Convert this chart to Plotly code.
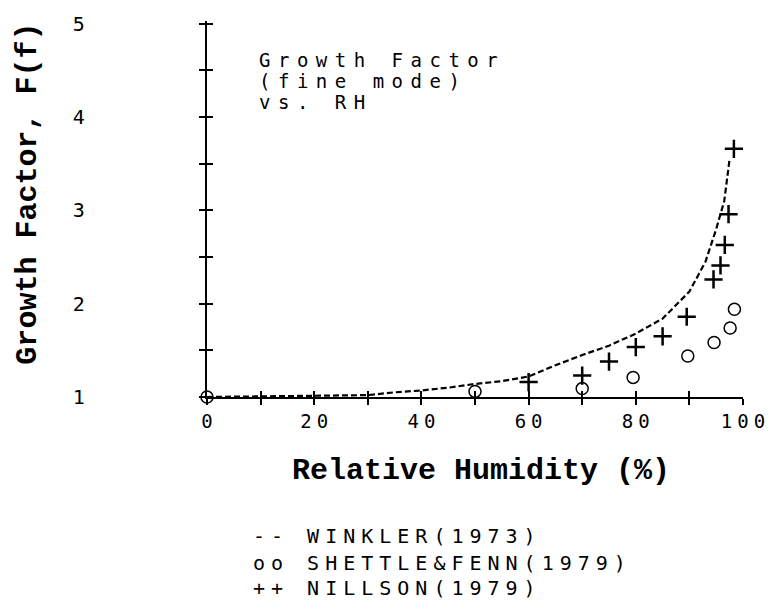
import plotly.graph_objects as go

# ---------------- data ----------------
winkler_rh = [0, 15, 30, 35, 40, 45, 50, 55, 60, 65, 70, 75, 80, 85, 90, 93, 95, 96.5, 97.5]
winkler_f = [1.0, 1.01, 1.02, 1.05, 1.07, 1.10, 1.14, 1.17, 1.22, 1.34, 1.45, 1.55, 1.68, 1.84, 2.13, 2.45, 2.8, 3.1, 3.55]

shettle_rh = [0, 50, 70, 79.5, 89.7, 94.6, 97.6, 98.4]
shettle_f = [1.0, 1.06, 1.09, 1.21, 1.44, 1.585, 1.74, 1.94]

nillson_rh = [60, 70, 75, 80, 85, 89.5, 94.5, 95.8, 96.6, 97.3, 98.3]
nillson_f = [1.16, 1.23, 1.38, 1.535, 1.65, 1.86, 2.26, 2.41, 2.63, 2.96, 3.66]

x_tick_vals = [0, 10, 20, 30, 40, 50, 60, 70, 80, 90, 100]
x_tick_text = ["0", "", "20", "", "40", "", "60", "", "80", "", "100"]
y_tick_vals = [1, 1.5, 2, 2.5, 3, 3.5, 4, 4.5, 5]
y_tick_text = ["1", "", "2", "", "3", "", "4", "", "5"]

legend_lines = ["-- WINKLER(1973)", "oo SHETTLE&FENN(1979)", "++ NILLSON(1979)"]
note_lines = ["Growth Factor", "(fine mode)", "vs. RH"]
x_title = "Relative Humidity (%)"
y_title = "Growth Factor, F(f)"

# ---------------- layout geometry ----------------
W, H = 772, 605
L, R, T, B = 207, 20, 18, 208
PW, PH = W - L - R, H - T - B
X_RANGE = [0, 100]
Y_RANGE = [1, 5.03]


def px(xp):
    return (xp - L) / PW


def py(yp):
    return (H - B - yp) / PH


DOT = "DejaVu Sans Mono, monospace"
COUR = "Courier New, Liberation Mono, monospace"

fig = go.Figure()
fig.add_trace(go.Scatter(x=winkler_rh, y=winkler_f, mode="lines",
                         line=dict(color="black", width=2.2, dash="6px,3px"),
                         cliponaxis=False, showlegend=False))
fig.add_trace(go.Scatter(x=shettle_rh, y=shettle_f, mode="markers",
                         marker=dict(symbol="circle-open", size=12, color="black",
                                     line=dict(width=1.5, color="black")),
                         cliponaxis=False, showlegend=False))
fig.add_trace(go.Scatter(x=nillson_rh, y=nillson_f, mode="markers",
                         marker=dict(symbol="cross-thin-open", size=13, color="black",
                                     line=dict(width=2.5, color="black")),
                         cliponaxis=False, showlegend=False))
# invisible trace so the overlay axes (inner half of the cross ticks) get drawn
fig.add_trace(go.Scatter(x=winkler_rh, y=winkler_f, mode="markers", xaxis="x2", yaxis="y2",
                         marker=dict(opacity=0), hoverinfo="skip", showlegend=False))

axis_common = dict(showgrid=False, zeroline=False, color="black")

fig.update_layout(
    width=W, height=H,
    margin=dict(l=L, r=R, t=T, b=B),
    paper_bgcolor="white", plot_bgcolor="white",
    showlegend=False,
    xaxis=dict(range=X_RANGE, tickvals=x_tick_vals, ticktext=x_tick_text,
               ticks="outside", ticklen=6, tickwidth=2, tickcolor="black",
               showline=True, linewidth=2.2, linecolor="black",
               tickfont=dict(family=DOT, size=19, color="black"),
               ticklabelstandoff=0, **axis_common),
    yaxis=dict(range=Y_RANGE, tickvals=y_tick_vals, ticktext=y_tick_text,
               ticks="outside", ticklen=6, tickwidth=2, tickcolor="black",
               showline=True, linewidth=2.2, linecolor="black",
               tickfont=dict(family=DOT, size=20, color="black"),
               ticklabelstandoff=110, **axis_common),
    xaxis2=dict(range=X_RANGE, overlaying="x", anchor="y2", side="bottom",
                tickvals=x_tick_vals, ticks="inside", ticklen=6, tickwidth=2,
                tickcolor="black", showticklabels=False, showline=False, **axis_common),
    yaxis2=dict(range=Y_RANGE, overlaying="y", anchor="x2", side="left",
                tickvals=y_tick_vals, ticks="inside", ticklen=6, tickwidth=2,
                tickcolor="black", showticklabels=False, showline=False, **axis_common),
)

annotations = []
# note in upper-left of plot
note_y = [57, 78, 100]
for i, t in enumerate(note_lines):
    annotations.append(dict(x=px(258), y=py(note_y[i]), xref="paper", yref="paper",
                            text=t, showarrow=False, xanchor="left", yanchor="middle",
                            font=dict(family=DOT, size=19, color="black")))
# axis titles
annotations.append(dict(x=px(486), y=py(472), xref="paper", yref="paper", text=x_title,
                        showarrow=False, xanchor="center", yanchor="middle",
                        font=dict(family=COUR, size=30, color="black", weight="bold")))
annotations.append(dict(x=px(25), y=py(192), xref="paper", yref="paper", text=y_title,
                        showarrow=False, xanchor="center", yanchor="middle", textangle=-90,
                        font=dict(family=COUR, size=30, color="black", weight="bold")))
# text legend
leg_y = [537, 564, 590]
for i, t in enumerate(legend_lines):
    annotations.append(dict(x=px(252), y=py(leg_y[i]), xref="paper", yref="paper",
                            text=t, showarrow=False, xanchor="left", yanchor="middle",
                            font=dict(family=DOT, size=20, color="black")))
fig.update_layout(annotations=annotations)

post = """
document.body.style.margin = '0';
var gd = document.getElementById('{plot_id}');
function shift(t, dx){
  var tr = t.getAttribute('transform') || '';
  t.setAttribute('transform', tr + ' translate(' + dx + ',0)');
}
function spaceLeft(t, v){
  var b0 = t.getBBox(); t.style.letterSpacing = v + 'px'; var b1 = t.getBBox();
  shift(t, b0.x - b1.x);
}
function spaceCenter(t, v){
  var b0 = t.getBBox(); t.style.letterSpacing = v + 'px'; var b1 = t.getBBox();
  var c0 = b0.x + b0.width / 2;
  var c1 = b1.x + (b1.width - v) / 2;
  shift(t, c0 - c1);
}
gd.querySelectorAll('.xtick text').forEach(function(t){ spaceCenter(t, 5); });
[0,1,2].forEach(function(i){
  gd.querySelectorAll('.annotation[data-index="'+i+'"] text').forEach(function(t){ spaceLeft(t, 7.5); });
});
[5,6,7].forEach(function(i){
  gd.querySelectorAll('.annotation[data-index="'+i+'"] text').forEach(function(t){ spaceLeft(t, 6); });
});
"""
fig.write_html("out.html", post_script=post, config={"displayModeBar": False})
